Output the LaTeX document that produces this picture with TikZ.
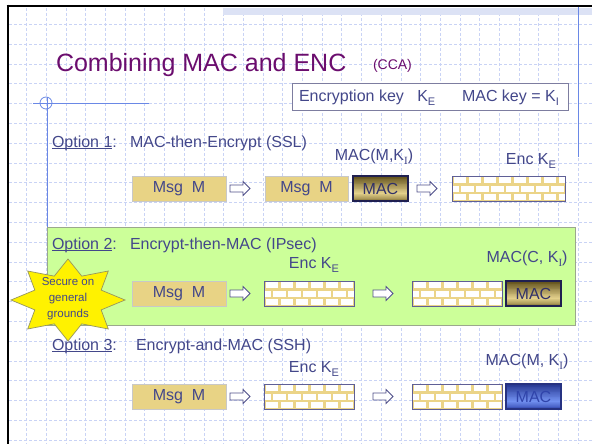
\documentclass[tikz,border=0pt]{standalone}
\usepackage{fontspec}
\setmainfont{Liberation Sans}
\newfontfamily\serifface{Liberation Serif}
\usetikzlibrary{calc}

\definecolor{ink}{HTML}{43478A}
\definecolor{titlepurple}{HTML}{6B0D6E}
\definecolor{gridblue}{HTML}{C9D3F5}
\definecolor{rulecol}{HTML}{6A88E6}
\definecolor{tan}{HTML}{E8D385}
\definecolor{mortar}{HTML}{EBD488}
\definecolor{brickedge}{HTML}{5F5F96}
\definecolor{paleleaf}{HTML}{CCFF99}
\definecolor{leafedge}{HTML}{9BA88C}
\definecolor{bandcol}{HTML}{DCE2F5}
\definecolor{goldtop}{HTML}{5C4C16}
\definecolor{goldmid}{HTML}{E6D38E}
\definecolor{goldbot}{HTML}{8A783A}
\definecolor{bluetop}{HTML}{24358F}
\definecolor{bluemid}{HTML}{7392F2}
\definecolor{bluebot}{HTML}{3449B0}

\newcommand\lowsub[1]{\raisebox{-0.45ex}{\fontsize{11}{11}\selectfont #1}}
\newcommand\kE{K\lowsub{E}}
\newcommand\kI{K\lowsub{\serifface I}}
\newcommand\optu[1]{\sbox0{#1}\rlap{\rule[-2.2pt]{\wd0}{1pt}}\usebox0}

% vertical three-stop gradient, drawn as thin stripes inside a node
\newcommand\gradstripes[3]{%
  \foreach \i in {0,...,29}{%
    \pgfmathsetmacro\ta{\i/30}%
    \pgfmathsetmacro\tb{min(1,(\i+1.2)/30)}%
    \pgfmathsetmacro\tm{(\i+0.5)/30}%
    \pgfmathsetmacro\pa{100*\tm/0.7}%
    \pgfmathsetmacro\pb{100*(\tm-0.7)/0.3}%
    \ifdim\tm pt<0.7pt \colorlet{stripe}{#2!\pa!#1}\else\colorlet{stripe}{#3!\pb!#2}\fi
    \fill[stripe] ($(path picture bounding box.north west)!\ta!(path picture bounding box.south west)$)
      rectangle ($(path picture bounding box.north east)!\tb!(path picture bounding box.south east)$);
  }}

\newcommand\brickwall[1]{%
  \begin{scope}
    \clip (#1.south west) rectangle (#1.north east);
    \fill[mortar] (#1.south west) rectangle (#1.north east);
    \foreach \r in {0,1,2}{
      \foreach \c in {0,...,8}{
        \pgfmathsetmacro\bx{\c*15-mod(\r,2)*7.5+1.5}
        \pgfmathsetmacro\by{\r*8.4+1.3}
        \fill[white,shift={(#1.north west)}] (\bx,\by) rectangle ++(12.5,5.8);
      }
    }
  \end{scope}
  \draw[brickedge,line width=0.8pt] (#1.south west) rectangle (#1.north east);
}

\tikzset{
  every node/.style={inner sep=0pt, outer sep=0pt},
  gridline/.style={gridblue, line width=0.6pt, dash pattern=on 3pt off 2pt},
  deco/.style={rulecol, line width=0.8pt},
  txt/.style={text=ink, font=\fontsize{16}{16}\selectfont},
  lbl/.style={text=ink, font=\fontsize{16}{16}\selectfont},
  msgbox/.style={rectangle, fill=tan, draw={rgb,255:red,200;green,200;blue,200}, line width=0.8pt,
    minimum width=94pt, minimum height=25pt, text=ink, font=\fontsize{16}{16}\selectfont},
  encbox/.style={rectangle, minimum height=25pt},
  macgold/.style={rectangle, draw={rgb,255:red,32;green,32;blue,80}, line width=1.2pt,
    path picture={\gradstripes{goldtop}{goldmid}{goldbot}},
    minimum width=55pt, minimum height=25pt, text={rgb,255:red,48;green,48;blue,105},
    font=\fontsize{16}{16}\selectfont},
  macblue/.style={rectangle, draw={rgb,255:red,38;green,50;blue,130}, line width=1.2pt,
    path picture={\gradstripes{bluetop}{bluemid}{bluebot}},
    minimum width=55pt, minimum height=25pt, text={rgb,255:red,48;green,68;blue,170},
    font=\fontsize{16}{16}\selectfont},
  arrowline/.style={draw={rgb,255:red,80;green,80;blue,138}, fill=white, line width=0.8pt},
  hollowarrow/.pic={\draw[arrowline] (-10,-3.5) -- (3,-3.5) -- (3,-7) -- (10,0) -- (3,7) -- (3,3.5) -- (-10,3.5) -- cycle;},
  greenpanel/.style={rectangle, fill=paleleaf, draw=leafedge, line width=1pt, anchor=north west},
  keybox/.style={rectangle, fill=white, draw={rgb,255:red,125;green,125;blue,160}, line width=1pt},
  sealstyle/.style={fill={rgb,255:red,255;green,242;blue,0}, draw={rgb,255:red,150;green,150;blue,95}, line width=0.7pt},
}

\begin{document}
\begin{tikzpicture}[x=1pt, y=-1pt]
\useasboundingbox (0,0) rectangle (592,444);
\fill[white] (0,0) rectangle (592,444);

% dashed background grid
\foreach \k in {0,...,29} \draw[gridline] ({26.5+19.7*\k},8) -- ({26.5+19.7*\k},444);
\foreach \k in {0,...,21} \draw[gridline] (9,{24.3+19.8*\k}) -- (592,{24.3+19.8*\k});

% slide frame and ornaments
\fill[bandcol] (223,8) rectangle (592,15);
\draw[black, line width=2.6pt] (6.5,6) -- (592,6);
\draw[black, line width=2.6pt] (8,4.7) -- (8,444);
\draw[deco] (578,7) -- (578,157);
\draw[deco] (33,103) -- (149,103);
\draw[deco] (46,103) circle (6);
\draw[deco] (47,97) -- (47,227);

% title
\node[anchor=base west, text=titlepurple, font=\fontsize{25}{25}\selectfont] (title) at (56,72) {Combining MAC and ENC};
\node[anchor=base west, text=titlepurple, font=\fontsize{14}{14}\selectfont] (cca) at (373,70) {(CCA)};

% key legend
\node[keybox, minimum width=276pt, minimum height=26pt] (keys) at (430,97) {};
\node[txt, anchor=west] (kenc) at (299,98) {Encryption key\ \ \ K\lowsub{E}};
\node[txt, anchor=west] (kmac) at (462,98) {MAC key = K\lowsub{I}};

% option 1: MAC-then-Encrypt
\node[txt, anchor=west] (o1) at (52,143) {\optu{Option 1}:};
\node[txt, anchor=west] (o1t) at (130,143) {MAC-then-Encrypt (SSL)};
\node[lbl] (lmac1) at (374,157) {MAC(M,\kI)};
\node[lbl] (lenc1) at (531,161) {Enc \kE};
\node[msgbox] (m1) at (179,188.5) {Msg\ \ M};
\node[msgbox, minimum width=83pt] (m1b) at (306.5,188.5) {Msg\ \ M};
\node[macgold] (mac1) at (380.5,188.5) {MAC};
\node[encbox, minimum width=113pt] (e1) at (508.5,188.5) {};
\brickwall{e1}
\pic (a11) at (240,188.5) {hollowarrow};
\pic (a12) at (427,188.5) {hollowarrow};

% option 2: Encrypt-then-MAC
\node[greenpanel, minimum width=528pt, minimum height=98pt] (panel) at (47,227) {};
\node[txt, anchor=west] (o2) at (52,245) {\optu{Option 2}:};
\node[txt, anchor=west] (o2t) at (130,245) {Encrypt-then-MAC (IPsec)};
\node[lbl] (lenc2) at (314,265) {Enc \kE};
\node[lbl] (lmac2) at (527,259) {MAC(C, \kI)};
\node[msgbox] (m2) at (179,293.5) {Msg\ \ M};
\node[encbox, minimum width=90pt] (e2a) at (309,293.5) {};
\brickwall{e2a}
\node[encbox, minimum width=90pt] (e2b) at (457,293.5) {};
\brickwall{e2b}
\node[macgold] (mac2) at (533.5,293.5) {MAC};
\pic (a21) at (240,293.5) {hollowarrow};
\pic (a22) at (383,293.5) {hollowarrow};

% option 3: Encrypt-and-MAC
\node[txt, anchor=west] (o3) at (52,346) {\optu{Option 3}:};
\node[txt, anchor=west] (o3t) at (136,346) {Encrypt-and-MAC (SSH)};
\node[lbl] (lenc3) at (314,369) {Enc \kE};
\node[lbl] (lmac3) at (527,362) {MAC(M, \kI)};
\node[msgbox] (m3) at (179,396.5) {Msg\ \ M};
\node[encbox, minimum width=90pt] (e3a) at (309,396.5) {};
\brickwall{e3a}
\node[encbox, minimum width=90pt] (e3b) at (457,396.5) {};
\brickwall{e3b}
\node[macblue] (mac3) at (533.5,396.5) {MAC};
\pic (a31) at (240,396.5) {hollowarrow};
\pic (a32) at (383,396.5) {hollowarrow};

% seal badge
\draw[sealstyle] plot[samples at={0,22.5,...,337.5}]
  ({68+57*(1-0.37*mod(round(\x/22.5),2))*cos(\x)}, {300-41*(1-0.37*mod(round(\x/22.5),2))*sin(\x)}) -- cycle;
\node[text=ink, align=center, font=\fontsize{11.5}{16}\selectfont] (seal) at (68,299) {Secure on\\general\\grounds};
\end{tikzpicture}
\end{document}
